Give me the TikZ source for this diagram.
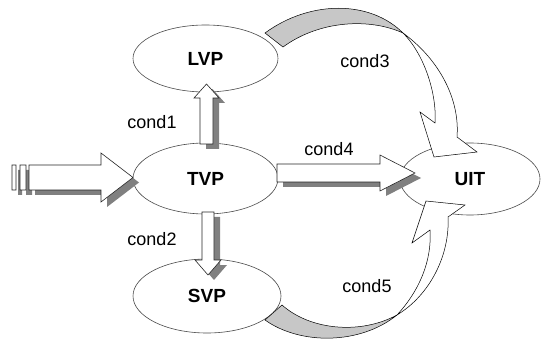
\documentclass[tikz,border=0pt]{standalone}
\usepackage{fontspec}
\setmainfont{Liberation Sans}
\usetikzlibrary{shapes.geometric}

% block arrow outlines (pixel-like units, y grows downwards)
\def\inarrow{(12,165) rectangle (16,190) (20,165) rectangle (26,190)
  (29,165) -- (101,165) -- (101,153) -- (133,177.5) -- (101,202) -- (101,190) -- (29,190) -- cycle}
\def\rarrow{(277,164) -- (380,164) -- (380,155) -- (415,173) -- (380,191) -- (380,182) -- (277,182) -- cycle}
\def\uarrow{(200,144) -- (200,98) -- (194,98) -- (206.5,84) -- (219,98) -- (213,98) -- (213,144) -- cycle}
\def\darrow{(202,212) -- (214,212) -- (214,260) -- (221,260) -- (208,275) -- (195,260) -- (202,260) -- cycle}

\begin{document}
\begin{tikzpicture}[x=1pt,y=-1pt,
  state/.style={ellipse, draw=black!70, line width=0.6pt, fill=white, inner sep=0pt,
    font=\bfseries\fontsize{19}{19}\selectfont},
  cond/.style={font=\fontsize{18}{18}\selectfont},
  blockarrow/.style={draw=black!85, line width=0.6pt, fill=white, line join=miter},
  blockshadow/.style={fill=black!50, shift={(6,5)}},
  twistface/.style={draw=black, line width=0.5pt, fill=black!22},
  frontface/.style={draw=black, line width=0.5pt, fill=white, line join=miter}]
\useasboundingbox (0,0) rectangle (544,342);
\fill[white] (0,0) rectangle (544,342);

% states
\node[state, minimum width=145pt, minimum height=67pt] (lvp) at (205.5,58.5) {LVP};
\node[state, minimum width=145pt, minimum height=71pt] (tvp) at (205.5,178.5) {TVP};
\node[state, minimum width=148pt, minimum height=74pt] (svp) at (207,296) {SVP};
\node[state, minimum width=140pt, minimum height=72pt] (uit) at (470,179) {UIT};

% straight block arrows with their shadows
\fill[blockshadow] \inarrow;
\fill[blockshadow] \rarrow;
\fill[blockshadow] \uarrow;
\fill[blockshadow] \darrow;
\path[blockarrow] \inarrow;
\path[blockarrow] \rarrow;
\path[blockarrow] \uarrow;
\path[blockarrow] \darrow;

% curved arrow LVP -> UIT (twisted band)
\path[twistface] (265,33) .. controls (310,0) and (370,0) .. (403,33)
  .. controls (370,18) and (320,20) .. (283,47) -- cycle;
\path[frontface] (403,33) .. controls (440,60) and (460,100) .. (457,137)
  -- (477,152) -- (434,157) -- (420,112) -- (435,123)
  .. controls (437,95) and (425,55) .. (403,33) -- cycle;

% curved arrow SVP -> UIT (twisted band)
\path[twistface] (265,320) .. controls (300,345) and (360,345) .. (397,315)
  .. controls (360,335) and (310,330) .. (282,305) -- cycle;
\path[frontface] (397,315) .. controls (430,295) and (450,255) .. (448,217)
  -- (465,205) -- (426,201) -- (412,243) -- (430,230)
  .. controls (432,260) and (420,290) .. (397,315) -- cycle;

% condition labels
\node[cond] (c1) at (152,122) {cond1};
\node[cond] (c2) at (152,239) {cond2};
\node[cond] (c3) at (365,61) {cond3};
\node[cond] (c4) at (329,149) {cond4};
\node[cond] (c5) at (367,286) {cond5};
\end{tikzpicture}
\end{document}
